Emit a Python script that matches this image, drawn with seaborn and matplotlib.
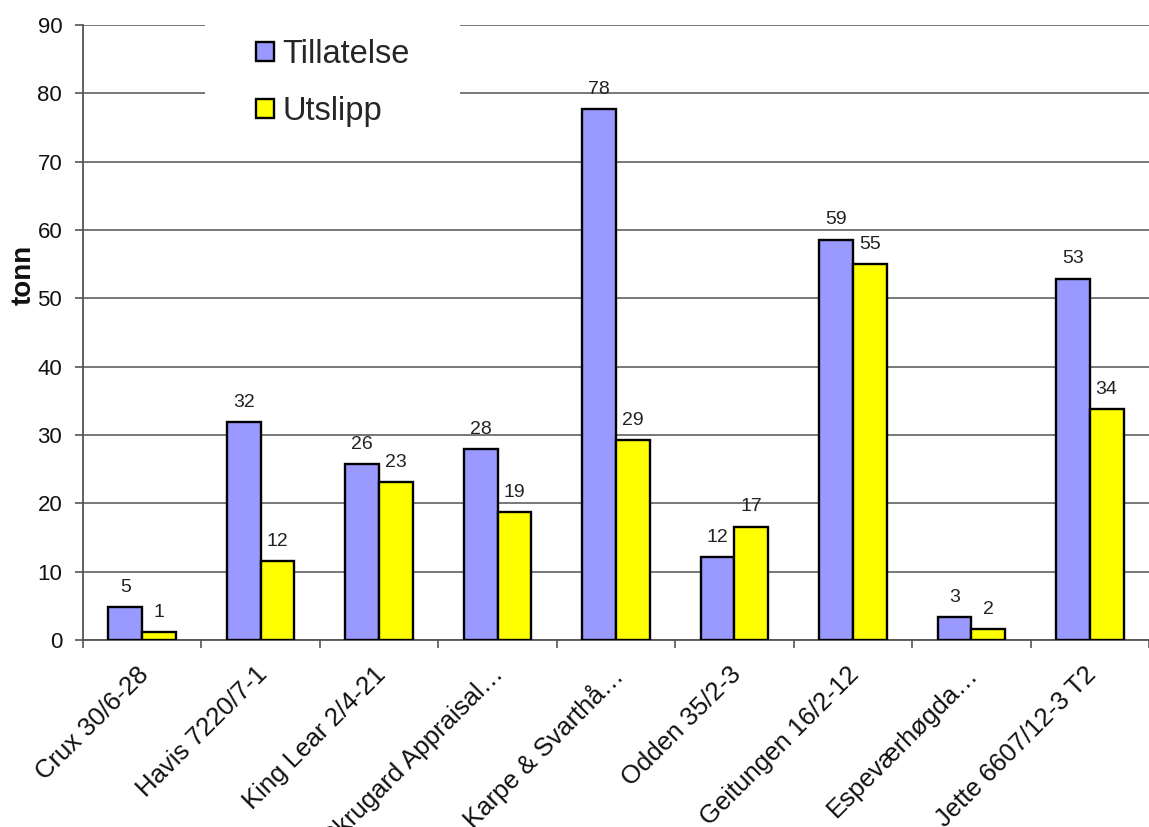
import matplotlib
matplotlib.use("Agg")
import matplotlib.pyplot as plt
import matplotlib.transforms as mtransforms
from matplotlib.patches import Rectangle
import seaborn as sns
import pandas as pd

# ---- data ----
sites = ["Crux 30/6-28", "Havis 7220/7-1", "King Lear 2/4-21",
         "Skrugard Appraisal…", "Karpe & Svarthå…", "Odden 35/2-3",
         "Geitungen 16/2-12", "Espeværhøgda…", "Jette 6607/12-3 T2"]
tillatelse = [4.8, 31.9, 25.7, 28.0, 77.7, 12.1, 58.6, 3.4, 52.9]
utslipp = [1.2, 11.6, 23.1, 18.7, 29.2, 16.6, 55.0, 1.6, 33.8]
series = ["Tillatelse", "Utslipp"]
colors = ["#9999FF", "#FFFF00"]
yticks = [0, 10, 20, 30, 40, 50, 60, 70, 80, 90]
ylabel = "tonn"

df = pd.DataFrame({
    "site": sites * 2,
    "value": tillatelse + utslipp,
    "series": [series[0]] * len(sites) + [series[1]] * len(sites),
})

sns.set_style("white")
plt.rcParams["font.family"] = ["Liberation Sans", "DejaVu Sans"]

W, H = 1149, 827
fig = plt.figure(figsize=(W / 100, H / 100), dpi=100)
ax_left, ax_right, ax_top, ax_bot = 83, 1149, 25, 640
ax = fig.add_axes([ax_left / W, 1 - ax_bot / H, (ax_right - ax_left) / W, (ax_bot - ax_top) / H])

sns.barplot(data=df, x="site", y="value", hue="series", order=sites,
            hue_order=series, palette=colors, width=0.57, gap=0,
            edgecolor="black", linewidth=1.7, saturation=1, ax=ax,
            legend=False, zorder=3)

# axes range (reference is cut at the right edge)
cat_px = 119.7
ax.set_xlim(-0.5, (ax_right - ax_left) / cat_px - 0.5)
ax.set_ylim(0, 90)
ax.set_yticks(yticks)
ax.tick_params(axis="y", labelsize=16, length=6, width=1.2, color="#555555",
               pad=9, left=True, labelcolor="#111111")

# gridlines
ax.yaxis.grid(True, color="#606060", linewidth=1.2, zorder=0)
ax.set_axisbelow(True)

for s in ["top", "right"]:
    ax.spines[s].set_visible(False)
for s in ["left", "bottom"]:
    ax.spines[s].set_color("#555555")
    ax.spines[s].set_linewidth(1.3)

# x ticks: labels at centres, tick marks at boundaries
ax.set_xticks(range(len(sites)))
ax.set_xticks([i + 0.5 for i in range(-1, len(sites))], minor=True)
ax.tick_params(axis="x", which="major", length=0, pad=16, labelsize=18.5,
               labelcolor="#111111")
ax.tick_params(axis="x", which="minor", length=6, width=1.2, color="#555555",
               bottom=True)
offset = mtransforms.ScaledTranslation(-6 / 100, 0, fig.dpi_scale_trans)
for lab in ax.get_xticklabels():
    lab.set_rotation(45)
    lab.set_ha("right")
    lab.set_va("top")
    lab.set_rotation_mode("anchor")
    lab.set_transform(lab.get_transform() + offset)

ax.set_xlabel("")
ax.set_ylabel(ylabel, fontsize=20, fontweight="bold", color="#111111")
ax.yaxis.set_label_coords((37 - ax_left) / (ax_right - ax_left),
                          (ax_bot - 275) / (ax_bot - ax_top))

# value labels
for cont in ax.containers:
    ax.bar_label(cont, fmt="%.0f", padding=8, fontsize=14, color="#222222")

# legend box (white background covering gridlines)
ax.add_patch(Rectangle(((205 - ax_left) / (ax_right - ax_left), (ax_bot - 100) / (ax_bot - ax_top)),
                       (460 - 205) / (ax_right - ax_left), 0.2,
                       transform=ax.transAxes, facecolor="white",
                       edgecolor="none", zorder=2, clip_on=False))
leg = ax.legend(ax.containers, series, loc="upper left",
                bbox_to_anchor=((256 - ax_left) / (ax_right - ax_left),
                                (ax_bot - 39) / (ax_bot - ax_top)),
                frameon=False, fontsize=23.5, handlelength=0.55,
                handleheight=0.55, handletextpad=0.25, labelspacing=0.8,
                borderpad=0, borderaxespad=0)
leg.set_zorder(5)

fig.savefig("out.png", dpi=100)
